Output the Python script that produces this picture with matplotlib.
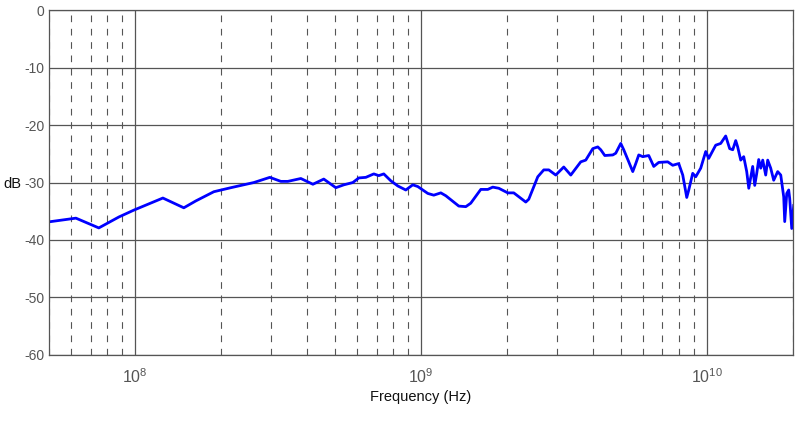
import numpy as np
import matplotlib
matplotlib.use("Agg")
import matplotlib.pyplot as plt
import matplotlib.ticker as mtick

# frequency in GHz, response in dB
freq_ghz = [0.0508, 0.0622, 0.0748, 0.0879, 0.0992, 0.1253, 0.1483, 0.1634, 0.1889, 0.2166,
            0.2607, 0.2965, 0.3240, 0.3427, 0.3806, 0.4194, 0.4578, 0.5044, 0.5380, 0.5785,
            0.6071, 0.6423, 0.6849, 0.7129, 0.7422, 0.7855, 0.8312, 0.8862, 0.9375, 0.9761,
            1.058, 1.110, 1.175, 1.223, 1.358, 1.437, 1.495, 1.621, 1.715, 1.785,
            1.874, 2.015, 2.114, 2.329, 2.386, 2.565, 2.692, 2.803, 2.965, 3.162,
            3.346, 3.626, 3.775, 3.995, 4.158, 4.260, 4.400, 4.693, 4.806, 5.004,
            5.126, 5.337, 5.512, 5.647, 5.785, 5.974, 6.269, 6.527, 6.795, 7.305,
            7.605, 7.981, 8.244, 8.514, 8.652, 8.934, 9.152, 9.528, 9.920, 10.16,
            10.75, 11.19, 11.65, 12.03, 12.33, 12.63, 12.83, 13.15, 13.47, 13.80,
            14.03, 14.48, 14.72, 14.96, 15.20, 15.45, 15.70, 16.08, 16.34, 16.74,
            17.15, 17.71, 18.15, 18.59, 18.74, 19.05, 19.35, 19.51, 19.83, 20.15]
level_db = [-36.8, -36.2, -37.9, -36.0, -34.8, -32.7, -34.4, -33.2, -31.6, -30.9,
            -30.0, -29.1, -29.8, -29.8, -29.3, -30.3, -29.4, -30.9, -30.4, -30.0,
            -29.2, -29.1, -28.5, -28.8, -28.5, -29.7, -30.6, -31.3, -30.4, -30.7,
            -31.9, -32.2, -31.8, -32.3, -34.1, -34.2, -33.6, -31.2, -31.2, -30.8,
            -31.0, -31.8, -31.8, -33.4, -32.9, -29.0, -27.8, -27.8, -28.7, -27.3,
            -28.7, -26.4, -26.1, -24.1, -23.8, -24.3, -25.3, -25.2, -24.9, -23.2,
            -24.3, -26.4, -28.1, -26.7, -25.2, -25.5, -25.3, -27.2, -26.5, -26.4,
            -27.0, -26.7, -28.7, -32.6, -31.3, -28.4, -29.0, -27.5, -24.6, -25.8,
            -23.5, -23.2, -21.9, -24.1, -24.3, -22.7, -23.8, -26.1, -25.5, -28.1,
            -31.0, -27.2, -30.5, -28.4, -26.0, -27.5, -26.1, -28.7, -26.1, -27.5,
            -29.6, -28.1, -28.7, -32.5, -36.8, -31.9, -31.3, -32.8, -38.0, -34.0]

f = np.array(freq_ghz) * 1e9
y = np.array(level_db)

plt.rcParams['font.family'] = ['Liberation Sans', 'DejaVu Sans']
plt.rcParams['axes.unicode_minus'] = False
plt.rcParams['mathtext.fontset'] = 'custom'
plt.rcParams['mathtext.rm'] = 'Liberation Sans'
plt.rcParams['mathtext.it'] = 'Liberation Sans'
plt.rcParams['mathtext.default'] = 'regular'

fig = plt.figure(figsize=(8, 4.23), dpi=100)
ax = fig.add_axes([0.061, 0.161, 0.93, 0.815])

ax.plot(f, y, color='#0000ff', linewidth=2.0)

ax.set_xscale('log')
ax.set_xlim(5e7, 2e10)
ax.set_ylim(-60, 0)
ax.set_yticks(np.arange(-60, 1, 10))

ax.xaxis.set_major_locator(mtick.LogLocator(base=10.0, numticks=10))
ax.xaxis.set_major_formatter(mtick.FuncFormatter(lambda v, p: r'$10^{%d}$' % round(np.log10(v))))
ax.xaxis.set_minor_locator(mtick.LogLocator(base=10.0, subs=np.arange(2, 10), numticks=20))
ax.xaxis.set_minor_formatter(mtick.NullFormatter())

ax.grid(which='major', axis='both', color='#555555', linestyle='-', linewidth=0.9)
ax.grid(which='minor', axis='x', color='#555555', linestyle=(0, (6, 6)), linewidth=0.8)
ax.set_axisbelow(True)

for s in ax.spines.values():
    s.set_color('#555555')
    s.set_linewidth(0.9)

ax.tick_params(which='both', length=0, labelcolor='#555555')
ax.tick_params(axis='y', labelsize=10, pad=3)
ax.tick_params(axis='x', labelsize=11.5, pad=9)

ax.set_xlabel('Frequency (Hz)', fontsize=10.5, color='#111111', labelpad=3)
ax.set_ylabel('dB', fontsize=10.5, color='#111111', rotation=0, va='center', ha='center')
ax.yaxis.set_label_coords(-0.049, 0.496)

fig.savefig('out.png', dpi=100)
